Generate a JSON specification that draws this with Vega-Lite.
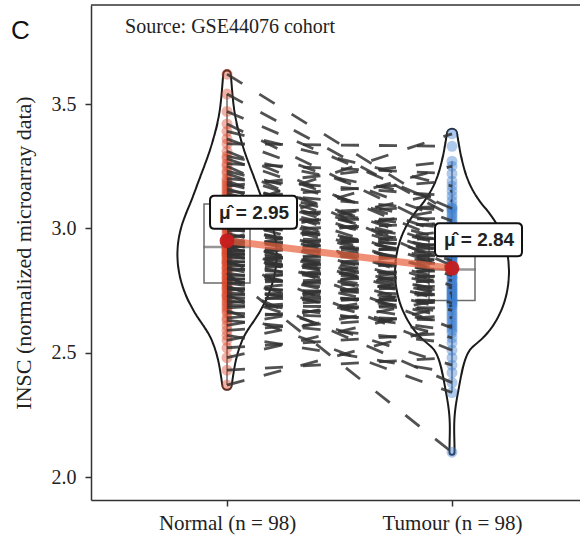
{
 "$schema": "https://vega.github.io/schema/vega-lite/v6.json",
 "width": 489, "height": 495,
 "autosize": "none",
 "padding": {"left": 91, "top": 5, "right": 0, "bottom": 35},
 "background": "white",
 "title": {"text": "C", "anchor": "start", "frame": "group", "orient": "top", "offset": 0, "dx": -80, "dy": 40, "fontSize": 26, "font": "Liberation Sans", "fontWeight": "normal", "color": "#111"},
 "config": {
  "view": {"stroke": null},
  "axis": {"domainColor": "#333", "domainWidth": 1.5, "tickColor": "#333", "tickWidth": 1.5, "tickSize": 6, "labelFont": "Liberation Serif", "labelFontSize": 20, "labelColor": "#222", "titleFont": "Liberation Serif", "titleFontSize": 22, "titleColor": "#222", "titleFontWeight": "normal", "grid": false}
 },
 "data": {"values": [
  {"id":1,"Normal":2.37,"Tumour":2.61},{"id":2,"Normal":2.43,"Tumour":2.48},{"id":3,"Normal":2.48,"Tumour":2.69},{"id":4,"Normal":2.52,"Tumour":2.58},
  {"id":5,"Normal":2.55,"Tumour":2.72},{"id":6,"Normal":2.57,"Tumour":2.42},{"id":7,"Normal":2.59,"Tumour":2.65},{"id":8,"Normal":2.61,"Tumour":2.76},
  {"id":9,"Normal":2.63,"Tumour":2.54},{"id":10,"Normal":2.64,"Tumour":2.71},{"id":11,"Normal":2.66,"Tumour":2.63},{"id":12,"Normal":2.67,"Tumour":2.34},
  {"id":13,"Normal":2.68,"Tumour":2.74},{"id":14,"Normal":2.69,"Tumour":2.68},{"id":15,"Normal":2.70,"Tumour":2.80},{"id":16,"Normal":2.71,"Tumour":2.59},
  {"id":17,"Normal":2.72,"Tumour":2.71},{"id":18,"Normal":2.73,"Tumour":2.45},{"id":19,"Normal":2.73,"Tumour":2.77},{"id":20,"Normal":2.74,"Tumour":2.70},
  {"id":21,"Normal":2.75,"Tumour":2.84},{"id":22,"Normal":2.76,"Tumour":2.62},{"id":23,"Normal":2.76,"Tumour":2.73},{"id":24,"Normal":2.77,"Tumour":2.38},
  {"id":25,"Normal":2.78,"Tumour":2.81},{"id":26,"Normal":2.78,"Tumour":2.66},{"id":27,"Normal":2.79,"Tumour":2.88},{"id":28,"Normal":2.80,"Tumour":2.75},
  {"id":29,"Normal":2.80,"Tumour":2.56},{"id":30,"Normal":2.81,"Tumour":2.83},{"id":31,"Normal":2.82,"Tumour":2.69},{"id":32,"Normal":2.82,"Tumour":2.10},
  {"id":33,"Normal":2.83,"Tumour":2.90},{"id":34,"Normal":2.84,"Tumour":2.78},{"id":35,"Normal":2.84,"Tumour":2.64},{"id":36,"Normal":2.85,"Tumour":2.86},
  {"id":37,"Normal":2.86,"Tumour":2.72},{"id":38,"Normal":2.86,"Tumour":2.94},{"id":39,"Normal":2.87,"Tumour":2.80},{"id":40,"Normal":2.87,"Tumour":2.51},
  {"id":41,"Normal":2.88,"Tumour":2.89},{"id":42,"Normal":2.89,"Tumour":2.75},{"id":43,"Normal":2.89,"Tumour":2.99},{"id":44,"Normal":2.90,"Tumour":2.67},
  {"id":45,"Normal":2.90,"Tumour":2.83},{"id":46,"Normal":2.91,"Tumour":2.92},{"id":47,"Normal":2.91,"Tumour":2.73},{"id":48,"Normal":2.92,"Tumour":3.08},
  {"id":49,"Normal":2.92,"Tumour":2.78},{"id":50,"Normal":2.93,"Tumour":2.60},{"id":51,"Normal":2.93,"Tumour":2.87},{"id":52,"Normal":2.94,"Tumour":2.96},
  {"id":53,"Normal":2.94,"Tumour":2.74},{"id":54,"Normal":2.95,"Tumour":2.90},{"id":55,"Normal":2.95,"Tumour":2.70},{"id":56,"Normal":2.96,"Tumour":3.15},
  {"id":57,"Normal":2.96,"Tumour":2.82},{"id":58,"Normal":2.97,"Tumour":2.93},{"id":59,"Normal":2.98,"Tumour":2.76},{"id":60,"Normal":2.99,"Tumour":3.02},
  {"id":61,"Normal":3.00,"Tumour":2.85},{"id":62,"Normal":3.00,"Tumour":3.25},{"id":63,"Normal":3.01,"Tumour":2.79},{"id":64,"Normal":3.02,"Tumour":2.91},
  {"id":65,"Normal":3.03,"Tumour":3.04},{"id":66,"Normal":3.04,"Tumour":2.77},{"id":67,"Normal":3.04,"Tumour":2.88},{"id":68,"Normal":3.05,"Tumour":3.09},
  {"id":69,"Normal":3.06,"Tumour":2.82},{"id":70,"Normal":3.07,"Tumour":2.95},{"id":71,"Normal":3.08,"Tumour":3.38},{"id":72,"Normal":3.08,"Tumour":2.86},
  {"id":73,"Normal":3.09,"Tumour":2.81},{"id":74,"Normal":3.10,"Tumour":3.00},{"id":75,"Normal":3.11,"Tumour":2.91},{"id":76,"Normal":3.12,"Tumour":3.19},
  {"id":77,"Normal":3.13,"Tumour":2.84},{"id":78,"Normal":3.14,"Tumour":2.93},{"id":79,"Normal":3.15,"Tumour":3.07},{"id":80,"Normal":3.16,"Tumour":2.87},
  {"id":81,"Normal":3.17,"Tumour":3.27},{"id":82,"Normal":3.18,"Tumour":2.95},{"id":83,"Normal":3.19,"Tumour":2.89},{"id":84,"Normal":3.20,"Tumour":3.13},
  {"id":85,"Normal":3.22,"Tumour":2.92},{"id":86,"Normal":3.23,"Tumour":3.01},{"id":87,"Normal":3.25,"Tumour":2.85},{"id":88,"Normal":3.26,"Tumour":3.22},
  {"id":89,"Normal":3.28,"Tumour":2.97},{"id":90,"Normal":3.29,"Tumour":3.11},{"id":91,"Normal":3.31,"Tumour":2.94},{"id":92,"Normal":3.34,"Tumour":3.33},
  {"id":93,"Normal":3.36,"Tumour":3.03},{"id":94,"Normal":3.39,"Tumour":3.17},{"id":95,"Normal":3.42,"Tumour":2.98},{"id":96,"Normal":3.47,"Tumour":3.08},
  {"id":97,"Normal":3.54,"Tumour":3.05},{"id":98,"Normal":3.62,"Tumour":3.06}
 ]},
 "transform": [{"fold": ["Normal", "Tumour"], "as": ["condition", "value"]}],
 "layer": [
  {
   "layer": [
    {
     "mark": {"type": "trail", "color": "#1a1a1a"},
     "transform": [{"filter": {"field": "condition", "equal": "Normal"}}, {"density": "value", "groupby": ["condition"], "bandwidth": 0.08, "steps": 150}],
     "encoding": {
      "x": {"field": "condition", "type": "nominal", "scale": {"type": "point", "domain": ["Normal", "Tumour"], "padding": 0.5867, "align": 0.5152},
            "axis": {"title": null, "labelAngle": 0, "labelPadding": 6, "labelFontSize": 21, "labelExpr": "datum.value == 'Normal' ? 'Normal (n = 98)' : 'Tumour (n = 98)'"}},
      "y": {"field": "value", "type": "quantitative", "title": "INSC (normalized microarray data)", "scale": {"domain": [1.908, 3.898], "nice": false, "zero": false},
            "axis": {"values": [2.0, 2.5, 3.0, 3.5], "format": ".1f", "titlePadding": 16, "labelPadding": 9}},
      "detail": {"field": "condition", "type": "nominal"},
      "order": {"field": "value", "type": "quantitative"},
      "size": {"field": "density", "type": "quantitative", "scale": {"zero": true, "range": [4, 116]}, "legend": null}
     }
    },
    {
     "mark": {"type": "trail", "color": "#1a1a1a"},
     "transform": [{"filter": {"field": "condition", "equal": "Tumour"}}, {"density": "value", "groupby": ["condition"], "bandwidth": 0.08, "steps": 150}],
     "encoding": {
      "x": {"field": "condition", "type": "nominal", "scale": {"type": "point", "domain": ["Normal", "Tumour"], "padding": 0.5867, "align": 0.5152}},
      "y": {"field": "value", "type": "quantitative", "title": "INSC (normalized microarray data)", "scale": {"domain": [1.908, 3.898], "nice": false, "zero": false}},
      "detail": {"field": "condition", "type": "nominal"},
      "order": {"field": "value", "type": "quantitative"},
      "size": {"field": "density", "type": "quantitative", "scale": {"zero": true, "range": [4, 116]}, "legend": null}
     }
    }
   ]
  },
  {
   "layer": [
    {
     "mark": {"type": "trail", "color": "white"},
     "transform": [{"filter": {"field": "condition", "equal": "Normal"}}, {"density": "value", "groupby": ["condition"], "bandwidth": 0.08, "steps": 150}],
     "encoding": {
      "x": {"field": "condition", "type": "nominal", "scale": {"type": "point", "domain": ["Normal", "Tumour"], "padding": 0.5867, "align": 0.5152}},
      "y": {"field": "value", "type": "quantitative", "title": "INSC (normalized microarray data)", "scale": {"domain": [1.908, 3.898], "nice": false, "zero": false}},
      "detail": {"field": "condition", "type": "nominal"},
      "order": {"field": "value", "type": "quantitative"},
      "size": {"field": "density", "type": "quantitative", "scale": {"zero": true, "range": [0, 112]}, "legend": null}
     }
    },
    {
     "mark": {"type": "trail", "color": "white"},
     "transform": [{"filter": {"field": "condition", "equal": "Tumour"}}, {"density": "value", "groupby": ["condition"], "bandwidth": 0.08, "steps": 150}],
     "encoding": {
      "x": {"field": "condition", "type": "nominal", "scale": {"type": "point", "domain": ["Normal", "Tumour"], "padding": 0.5867, "align": 0.5152}},
      "y": {"field": "value", "type": "quantitative", "title": "INSC (normalized microarray data)", "scale": {"domain": [1.908, 3.898], "nice": false, "zero": false}},
      "detail": {"field": "condition", "type": "nominal"},
      "order": {"field": "value", "type": "quantitative"},
      "size": {"field": "density", "type": "quantitative", "scale": {"zero": true, "range": [0, 112]}, "legend": null}
     }
    }
   ]
  },
  {
   "mark": {"type": "boxplot", "size": 46, "extent": 1.5, "ticks": false, "outliers": false, "color": "#6b6b6b",
            "box": {"fillOpacity": 0, "stroke": "#6b6b6b", "strokeWidth": 1.5},
            "median": {"stroke": "#6b6b6b", "strokeWidth": 1.5},
            "rule": {"stroke": "#6b6b6b", "strokeWidth": 1.5}},
   "encoding": {
    "x": {"field": "condition", "type": "nominal", "scale": {"type": "point", "domain": ["Normal", "Tumour"], "padding": 0.5867, "align": 0.5152}},
    "y": {"field": "value", "type": "quantitative", "title": "INSC (normalized microarray data)", "scale": {"domain": [1.908, 3.898], "nice": false, "zero": false}}
   }
  },
  {
   "mark": {"type": "circle", "size": 120, "opacity": 0.42},
   "encoding": {
    "x": {"field": "condition", "type": "nominal", "scale": {"type": "point", "domain": ["Normal", "Tumour"], "padding": 0.5867, "align": 0.5152}},
    "y": {"field": "value", "type": "quantitative", "title": "INSC (normalized microarray data)", "scale": {"domain": [1.908, 3.898], "nice": false, "zero": false}},
    "color": {"field": "condition", "type": "nominal", "scale": {"domain": ["Normal", "Tumour"], "range": ["#D9472B", "#3E7FCF"]}, "legend": null}
   }
  },
  {
   "mark": {"type": "line", "color": "#333333", "strokeWidth": 2.8, "strokeDash": [18, 20], "opacity": 0.85},
   "encoding": {
    "x": {"field": "condition", "type": "nominal", "scale": {"type": "point", "domain": ["Normal", "Tumour"], "padding": 0.5867, "align": 0.5152}},
    "y": {"field": "value", "type": "quantitative", "title": "INSC (normalized microarray data)", "scale": {"domain": [1.908, 3.898], "nice": false, "zero": false}},
    "detail": {"field": "id", "type": "nominal"}
   }
  },
  {
   "data": {"values": [{"condition": "Normal", "value": 2.95, "label": "μ̂ = 2.95"}, {"condition": "Tumour", "value": 2.84, "label": "μ̂ = 2.84"}]},
   "layer": [
    {"mark": {"type": "line", "color": "#E8603C", "strokeWidth": 7, "opacity": 0.7},
     "encoding": {
      "x": {"field": "condition", "type": "nominal", "scale": {"type": "point", "domain": ["Normal", "Tumour"], "padding": 0.5867, "align": 0.5152}},
      "y": {"field": "value", "type": "quantitative", "title": "INSC (normalized microarray data)", "scale": {"domain": [1.908, 3.898], "nice": false, "zero": false}}}},
    {"mark": {"type": "circle", "size": 220, "color": "#C41E1E", "opacity": 0.95},
     "encoding": {
      "x": {"field": "condition", "type": "nominal", "scale": {"type": "point", "domain": ["Normal", "Tumour"], "padding": 0.5867, "align": 0.5152}},
      "y": {"field": "value", "type": "quantitative", "title": "INSC (normalized microarray data)", "scale": {"domain": [1.908, 3.898], "nice": false, "zero": false}}}},
    {"mark": {"type": "point", "filled": true, "size": 10000, "fill": "white", "stroke": "#111111", "strokeWidth": 2, "opacity": 1,
              "shape": "M -0.25 -0.90 L 1.31 -0.90 Q 1.40 -0.90 1.40 -0.81 L 1.40 -0.33 Q 1.40 -0.24 1.31 -0.24 L -0.25 -0.24 Q -0.34 -0.24 -0.34 -0.33 L -0.34 -0.81 Q -0.34 -0.90 -0.25 -0.90 Z"},
     "encoding": {
      "x": {"field": "condition", "type": "nominal", "scale": {"type": "point", "domain": ["Normal", "Tumour"], "padding": 0.5867, "align": 0.5152}},
      "y": {"field": "value", "type": "quantitative", "title": "INSC (normalized microarray data)", "scale": {"domain": [1.908, 3.898], "nice": false, "zero": false}}}},
    {"mark": {"type": "text", "dx": 27, "dy": -28, "align": "center", "baseline": "middle", "font": "Liberation Sans", "fontWeight": "bold", "fontSize": 19, "color": "#222"},
     "encoding": {
      "x": {"field": "condition", "type": "nominal", "scale": {"type": "point", "domain": ["Normal", "Tumour"], "padding": 0.5867, "align": 0.5152}},
      "y": {"field": "value", "type": "quantitative", "title": "INSC (normalized microarray data)", "scale": {"domain": [1.908, 3.898], "nice": false, "zero": false}},
      "text": {"field": "label", "type": "nominal"}}}
   ]
  },
  {
   "data": {"values": [{}]},
   "mark": {"type": "text", "text": "Source: GSE44076 cohort", "font": "Liberation Serif", "fontSize": 20, "color": "#222", "align": "center", "baseline": "middle", "dx": 3},
   "encoding": {
    "x": {"datum": "Normal", "type": "nominal", "scale": {"type": "point", "domain": ["Normal", "Tumour"], "padding": 0.5867, "align": 0.5152}},
    "y": {"datum": 3.81, "type": "quantitative", "title": "INSC (normalized microarray data)", "scale": {"domain": [1.908, 3.898], "nice": false, "zero": false}}
   }
  },
  {
   "data": {"values": [{}]},
   "mark": {"type": "rule", "color": "#333", "strokeWidth": 1.5},
   "encoding": {"y": {"datum": 3.898, "type": "quantitative", "title": "INSC (normalized microarray data)", "scale": {"domain": [1.908, 3.898], "nice": false, "zero": false}}}
  }
 ],
 "resolve": {"scale": {"size": "independent"}}
}
